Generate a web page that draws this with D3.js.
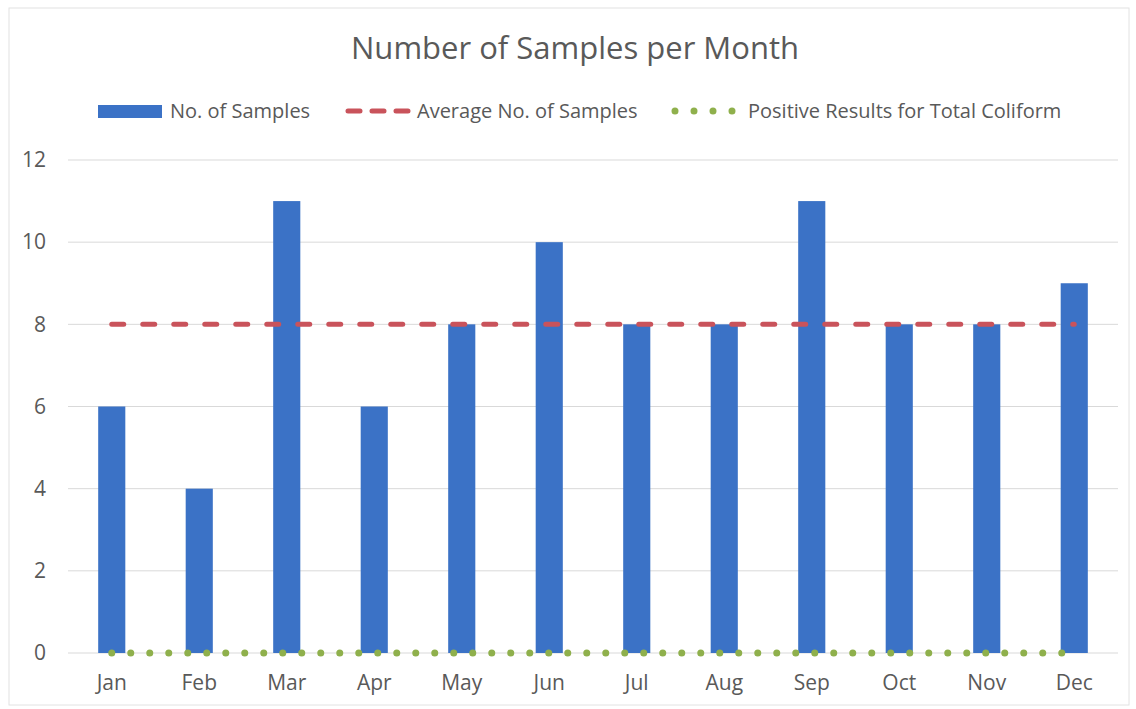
<!DOCTYPE html>
<html>
<head>
<meta charset="utf-8">
<script src="https://cdn.jsdelivr.net/npm/d3@7"></script>
<style>
  body { margin: 0; background: #fff; }
  text { font-family: "Open Sans", sans-serif; fill: #595959; }
</style>
</head>
<body>
<div id="chart"></div>
<script>
const months = ["Jan", "Feb", "Mar", "Apr", "May", "Jun", "Jul", "Aug", "Sep", "Oct", "Nov", "Dec"];
const samples = [6, 4, 11, 6, 8, 10, 8, 8, 11, 8, 8, 9];
const averageSamples = [8, 8, 8, 8, 8, 8, 8, 8, 8, 8, 8, 8];
const positiveResults = [0, 0, 0, 0, 0, 0, 0, 0, 0, 0, 0, 0];
const yTicks = [0, 2, 4, 6, 8, 10, 12];

const W = 1136, H = 709;
const margin = { top: 160, right: 18, bottom: 56, left: 68 };
const width = W - margin.left - margin.right;
const height = H - margin.top - margin.bottom;

const svg = d3.select("#chart").append("svg")
    .attr("width", W)
    .attr("height", H);

// faint scanned frame
svg.append("rect")
    .attr("x", 9).attr("y", 8)
    .attr("width", W - 16).attr("height", H - 12)
    .attr("fill", "none")
    .attr("stroke", "#e2e2e2");

svg.append("text")
    .attr("x", 575)
    .attr("y", 59)
    .attr("text-anchor", "middle")
    .style("font-size", "31px")
    .text("Number of Samples per Month");

const g = svg.append("g")
    .attr("transform", "translate(" + margin.left + "," + margin.top + ")");

const x = d3.scaleBand()
    .domain(months)
    .range([0, width])
    .paddingInner(0.69)
    .paddingOuter(0.345);

const y = d3.scaleLinear()
    .domain([0, 12])
    .range([height, 0]);

// gridlines
g.append("g")
    .selectAll("line")
    .data(yTicks)
    .enter()
    .append("line")
    .attr("x1", 0)
    .attr("x2", width)
    .attr("y1", d => y(d))
    .attr("y2", d => y(d))
    .attr("stroke", "#d9d9d9")
    .attr("stroke-width", 1);

// y axis labels
const yAxis = g.append("g")
    .call(d3.axisLeft(y).tickValues(yTicks).tickSize(0).tickPadding(22));
yAxis.select(".domain").remove();
yAxis.selectAll("text").style("font-size", "21px").attr("fill", "#595959");

// x axis labels
const xAxis = g.append("g")
    .attr("transform", "translate(0," + height + ")")
    .call(d3.axisBottom(x).tickSize(0).tickPadding(22));
xAxis.select(".domain").remove();
xAxis.selectAll("text").style("font-size", "21px").attr("fill", "#595959");

// bars
g.selectAll(".bar")
    .data(samples)
    .enter()
    .append("rect")
    .attr("class", "bar")
    .attr("x", (d, i) => x(months[i]))
    .attr("y", d => y(d))
    .attr("width", x.bandwidth())
    .attr("height", d => height - y(d))
    .attr("fill", "#3b72c6");

const cx = (d, i) => x(months[i]) + x.bandwidth() / 2;

// average line
g.append("path")
    .datum(averageSamples)
    .attr("fill", "none")
    .attr("stroke", "#c9535b")
    .attr("stroke-width", 5)
    .attr("stroke-linecap", "round")
    .attr("stroke-dasharray", "12,19")
    .attr("d", d3.line().x(cx).y(d => y(d)));

// positive results line
g.append("path")
    .datum(positiveResults)
    .attr("fill", "none")
    .attr("stroke", "#8fb04c")
    .attr("stroke-width", 7)
    .attr("stroke-linecap", "round")
    .attr("stroke-dasharray", "0,19")
    .attr("d", d3.line().x(cx).y(d => y(d)));

// legend
const legend = svg.append("g").attr("transform", "translate(0,111)");
legend.append("rect")
    .attr("x", 98).attr("y", -6)
    .attr("width", 64).attr("height", 13)
    .attr("fill", "#3b72c6");
legend.append("text")
    .attr("x", 170).attr("y", 7)
    .style("font-size", "20px")
    .text("No. of Samples");

legend.append("line")
    .attr("x1", 348).attr("x2", 412)
    .attr("y1", 0).attr("y2", 0)
    .attr("stroke", "#c9535b")
    .attr("stroke-width", 5)
    .attr("stroke-linecap", "round")
    .attr("stroke-dasharray", "12,12");
legend.append("text")
    .attr("x", 417).attr("y", 7)
    .style("font-size", "20px")
    .text("Average No. of Samples");

legend.append("line")
    .attr("x1", 675).attr("x2", 735)
    .attr("y1", 0).attr("y2", 0)
    .attr("stroke", "#8fb04c")
    .attr("stroke-width", 7)
    .attr("stroke-linecap", "round")
    .attr("stroke-dasharray", "0,19");
legend.append("text")
    .attr("x", 748).attr("y", 7)
    .style("font-size", "20px")
    .text("Positive Results for Total Coliform");
</script>
</body>
</html>
